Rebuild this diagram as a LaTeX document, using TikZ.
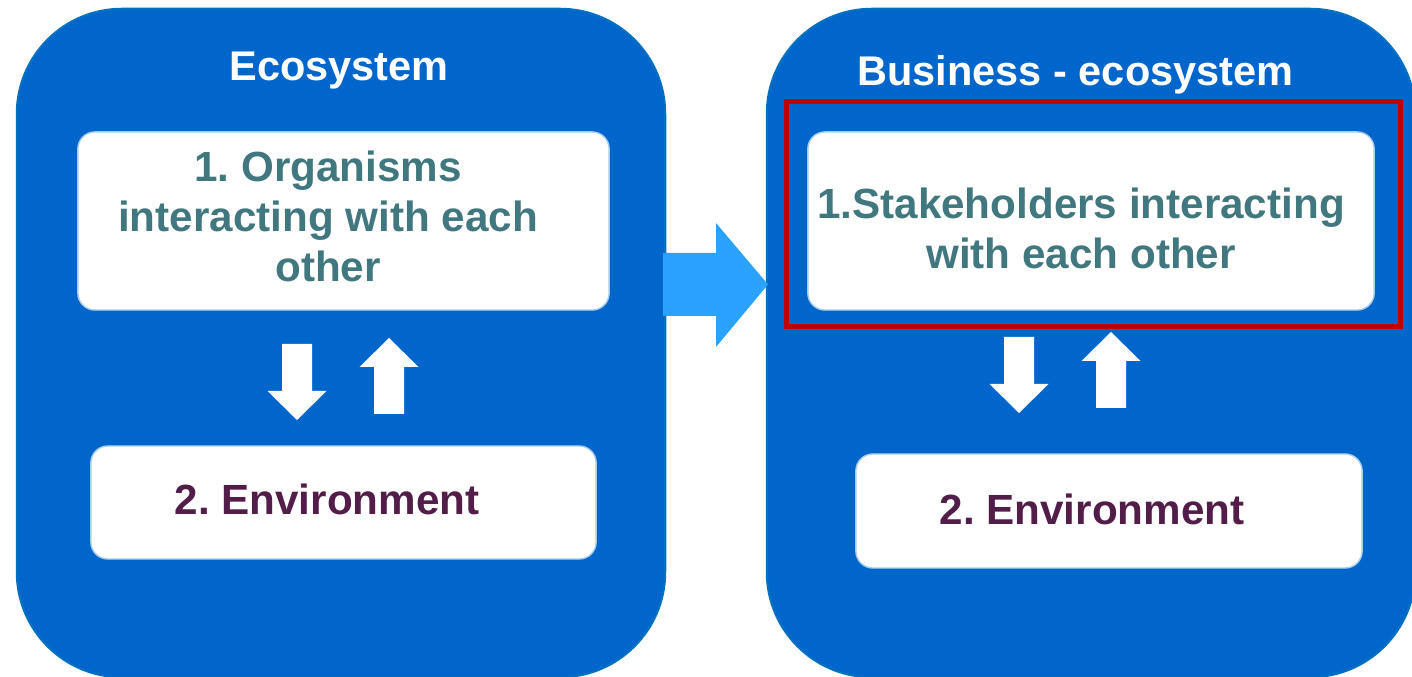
\documentclass[tikz,border=0pt]{standalone}
\usepackage{fontspec}
\setmainfont{Liberation Sans}
\frenchspacing
\usepackage{tikz}
\usetikzlibrary{positioning}
\definecolor{ecoblue}{HTML}{0066CC}
\definecolor{ecoedge}{HTML}{0070C0}
\definecolor{shiftblue}{HTML}{29A3FF}
\definecolor{orgteal}{HTML}{41777F}
\definecolor{envplum}{HTML}{521E49}
\definecolor{focusred}{HTML}{C00000}
\def\blockarrow(#1)[#2]{\fill[white, shift={(#1)}, rotate=#2] (-15, 0) -- (15, 0) -- (15, 47) -- (29.5, 47) -- (0, 76) -- (-29.5, 47) -- (-15, 47) -- cycle;}

\begin{document}
\begin{tikzpicture}[x=0.01cm, y=-0.01cm,
		bigbox/.style={draw=ecoedge, line width=0.6pt, fill=ecoblue, rounded corners=1.05cm, minimum width=6.48cm, minimum height=6.68cm, inner sep=0pt},
		inbox/.style={draw=ecoedge!35, line width=0.4pt, fill=white, rounded corners=0.17cm, inner sep=0pt},
		title/.style={text=white, font=\fontsize{11.8}{14}\selectfont\bfseries, anchor=base, inner sep=0pt},
		inner/.style={text=orgteal, font=\fontsize{12}{14.2}\selectfont\bfseries, align=center, inner sep=0pt},
		envtext/.style={text=envplum, font=\fontsize{12}{14.2}\selectfont\bfseries, anchor=base, inner sep=0pt}]
			%%%%% START %%%%%
			\clip (0, 0) rectangle (1412, 677);
			
			\node[bigbox] (eco) at (341, 343) {};
			\node[bigbox] (beco) at (1091, 343) {};
			
			\node[title] (ecot) at (339, 81) {Ecosystem};
			\node[title] (becot) at (1075.5, 85.5) {Business - ecosystem};
			
			% left side
			\node[inbox, minimum width=5.31cm, minimum height=1.78cm] (org) at (343.5, 221) {};
			\node[inner] (orgt) at (328, 216.5) {1. Organisms\\interacting with each\\other};
			\node[inbox, minimum width=5.05cm, minimum height=1.13cm] (env) at (343.5, 502.5) {};
			\node[envtext] (envt) at (327, 514.5) {2. Environment};
			\blockarrow(297, 344)[0]
			\blockarrow(389, 414)[180]
			
			% right side
			\node[draw=focusred, line width=1.4pt, minimum width=6.13cm, minimum height=2.24cm, inner sep=0pt] (focus) at (1093.5, 214) {};
			\node[inbox, minimum width=5.66cm, minimum height=1.78cm] (stake) at (1091, 221) {};
			\node[inner] (staket) at (1081, 228.5) {1.Stakeholders interacting\\with each other};
			\node[inbox, minimum width=5.06cm, minimum height=1.14cm] (benv) at (1109, 511) {};
			\node[envtext] (benvt) at (1092, 524.5) {2. Environment};
			\blockarrow(1019, 337)[0]
			\blockarrow(1111, 408)[180]
			
			% shift arrow
			\fill[shiftblue] (663, 253) -- (716, 253) -- (716, 223) -- (768, 284.5) -- (716, 347) -- (716, 316) -- (663, 316) -- cycle;
			%%%%% END %%%%%
\end{tikzpicture}
\end{document}
